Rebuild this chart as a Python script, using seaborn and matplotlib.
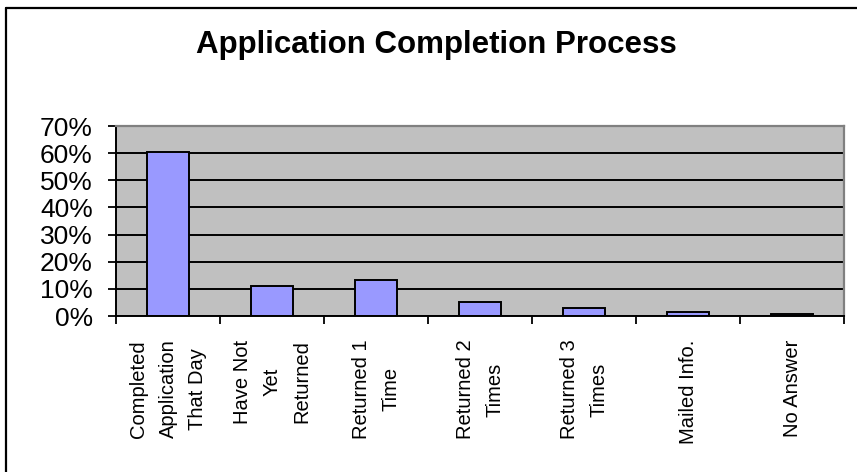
import matplotlib
matplotlib.use("Agg")
import matplotlib.pyplot as plt
import seaborn as sns
import pandas as pd
from matplotlib.lines import Line2D
from matplotlib.ticker import FixedLocator, PercentFormatter

categories = [
    "Completed\nApplication\nThat Day",
    "Have Not\nYet\nReturned",
    "Returned 1\nTime",
    "Returned 2\nTimes",
    "Returned 3\nTimes",
    "Mailed Info.",
    "No Answer",
]
shares = [0.603, 0.110, 0.133, 0.053, 0.031, 0.016, 0.008]
y_ticks = [0.0, 0.1, 0.2, 0.3, 0.4, 0.5, 0.6, 0.7]

sns.set_style("white")
plt.rcParams["font.family"] = ["Liberation Sans", "DejaVu Sans"]
plt.rcParams["text.color"] = "black"
plt.rcParams["xtick.color"] = "black"
plt.rcParams["ytick.color"] = "black"
plt.rcParams["axes.labelcolor"] = "black"

df = pd.DataFrame({"Response": categories, "Share": shares})

W, H = 857, 472
fig = plt.figure(figsize=(W / 100, H / 100), dpi=100)
ax = fig.add_axes([116 / W, 1 - 316 / H, 728 / W, 190 / H])

sns.barplot(x="Response", y="Share", data=df, color="#9999FF", saturation=1,
            edgecolor="black", linewidth=1.4, width=0.41, ax=ax)

ax.set_facecolor("#C0C0C0")
ax.set_xlim(-0.5, len(categories) - 0.5)
ax.set_ylim(0, 0.7)
ax.set_yticks(y_ticks)
ax.yaxis.set_major_formatter(PercentFormatter(1, decimals=0))
ax.yaxis.grid(True, color="black", linewidth=1.4)
ax.set_axisbelow(True)

ax.set_xticks(range(len(categories)))
ax.set_xticklabels(categories, rotation=90, ha="center", va="top",
                   multialignment="center", linespacing=1.7, fontsize=14.5,
                   color="black")
ax.xaxis.set_minor_locator(FixedLocator([i - 0.5 for i in range(len(categories) + 1)]))
ax.tick_params(axis="x", which="major", length=0, pad=17)
ax.tick_params(axis="x", which="minor", bottom=True, length=5.5, width=1.3,
               color="black", direction="out")
ax.tick_params(axis="y", left=True, length=5.8, width=1.3, color="black",
               labelcolor="black", direction="out", pad=11, labelsize=19)

ax.set_xlabel("")
ax.set_ylabel("")

for side in ["left", "bottom"]:
    ax.spines[side].set_color("black")
    ax.spines[side].set_linewidth(1.4)
for side in ["top", "right"]:
    ax.spines[side].set_color("#808080")
    ax.spines[side].set_linewidth(1.6)

fig.text(436 / W, 1 - 53 / H, "Application Completion Process", color="black",
         ha="center", va="baseline", fontsize=22.5, fontweight="bold")

# chart-area border (only left and top edges fall inside the image)
fig.add_artist(Line2D([6 / W, 6 / W], [0, 1 - 8 / H], color="black", linewidth=1.6,
                      transform=fig.transFigure))
fig.add_artist(Line2D([6 / W, 1], [1 - 8 / H, 1 - 8 / H], color="black", linewidth=1.6,
                      transform=fig.transFigure))

fig.savefig("out.png", dpi=100)
